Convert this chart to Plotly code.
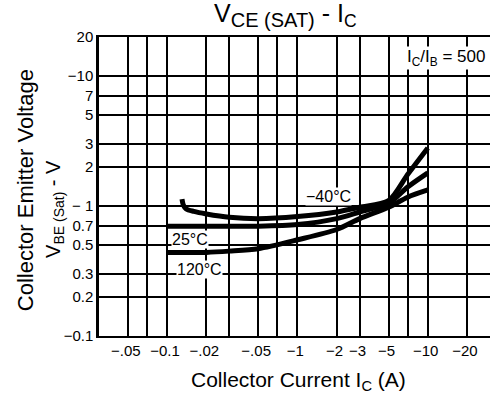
import plotly.graph_objects as go

# Collector current (A) and VCE(sat) (V)
ic_m40 = [0.13, 0.133, 0.14, 0.16, 0.2, 0.3, 0.5, 1, 2, 3, 5, 7, 10]
v_m40 = [1.13, 1.02, 0.95, 0.91, 0.87, 0.82, 0.8, 0.83, 0.9, 0.98, 1.1, 1.75, 2.8]
ic_25 = [0.1, 0.2, 0.3, 0.5, 1, 2, 3, 5, 7, 10]
v_25 = [0.7, 0.7, 0.7, 0.7, 0.72, 0.8, 0.9, 1.05, 1.4, 1.8]
ic_120 = [0.1, 0.2, 0.3, 0.5, 1, 2, 3, 5, 7, 10]
v_120 = [0.44, 0.44, 0.45, 0.47, 0.55, 0.66, 0.8, 0.98, 1.17, 1.33]

x_tickvals = [0.05, 0.07, 0.1, 0.2, 0.3, 0.5, 0.7, 1, 2, 3, 5, 7, 10, 20]
x_labels = ["\u2212.05", "", "\u22120.1", "\u2212.02", "", "\u2212.05", "",
            "\u22121", "\u22122", "\u22123", "\u22125", "", "\u221210", "\u221220"]
y_tickvals = [0.1, 0.2, 0.3, 0.5, 0.7, 1, 2, 3, 5, 7, 10, 20]
y_ticktext = ["\u22120.1", "0.2", "0.3", "0.5", "0.7", "\u2212 1", "2", "3", "5", "7", "\u221210", "20"]

# labels in the reference sit slightly left of their grid lines
x_ticktext = [t + "\u00a0" if t else "" for t in x_labels]

FONT = "Liberation Sans, Arial, Helvetica, sans-serif"

fig = go.Figure()
for xs, ys in [(ic_m40, v_m40), (ic_25, v_25), (ic_120, v_120)]:
    fig.add_trace(go.Scatter(x=xs, y=ys, mode="lines",
                             line=dict(color="black", width=5, shape="spline", smoothing=0.8),
                             showlegend=False, hoverinfo="skip"))

fig.update_xaxes(type="log", range=[-1.5229, 1.4771],
                 tickvals=x_tickvals, ticktext=x_ticktext, tickangle=0,
                 showgrid=True, gridcolor="black", gridwidth=2,
                 showline=True, linecolor="black", linewidth=2, mirror=True,
                 ticks="", zeroline=False,
                 tickfont=dict(family=FONT, size=15, color="black"))
fig.update_yaxes(type="log", range=[-1, 1.30103],
                 tickvals=y_tickvals, ticktext=y_ticktext,
                 showgrid=True, gridcolor="black", gridwidth=2,
                 showline=True, linecolor="black", linewidth=2.5, mirror=False,
                 ticks="", zeroline=False,
                 tickfont=dict(family=FONT, size=15, color="black"))

ann = []
def A(text, x, y, size, angle=0, bg=None):
    d = dict(text=text, x=x, y=y, xref="paper", yref="paper", showarrow=False,
             font=dict(family=FONT, size=size, color="black"), textangle=angle,
             xanchor="center", yanchor="middle")
    if bg:
        d["bgcolor"] = bg
        d["borderpad"] = 0
    ann.append(d)

A("V<sub><span style='font-size:20px'>CE (SAT)</span></sub> - I<sub>C</sub>", 0.478, 1.072, 25)
A("Collector Current I<sub>C</sub> (A)", 0.509, -0.15, 21)
A("Collector Emitter Voltage", -0.189, 0.488, 22, angle=-90)
A("V<sub>BE (Sat)</sub> - V", -0.1125, 0.425, 20, angle=-90)
A("\u221240\u00b0C", 0.588, 0.468, 16, bg="white")
A("25\u00b0C", 0.233, 0.324, 16, bg="white")
A("120\u00b0C", 0.258, 0.221, 16, bg="white")
A("I<sub>C</sub>/I<sub>B</sub> = 500", 0.887, 0.930, 17, bg="white")

fig.update_layout(width=490, height=396,
                  margin=dict(l=99, r=0, t=37, b=60, pad=0),
                  paper_bgcolor="white", plot_bgcolor="white",
                  annotations=ann, showlegend=False)

fig.write_html("out.html")
